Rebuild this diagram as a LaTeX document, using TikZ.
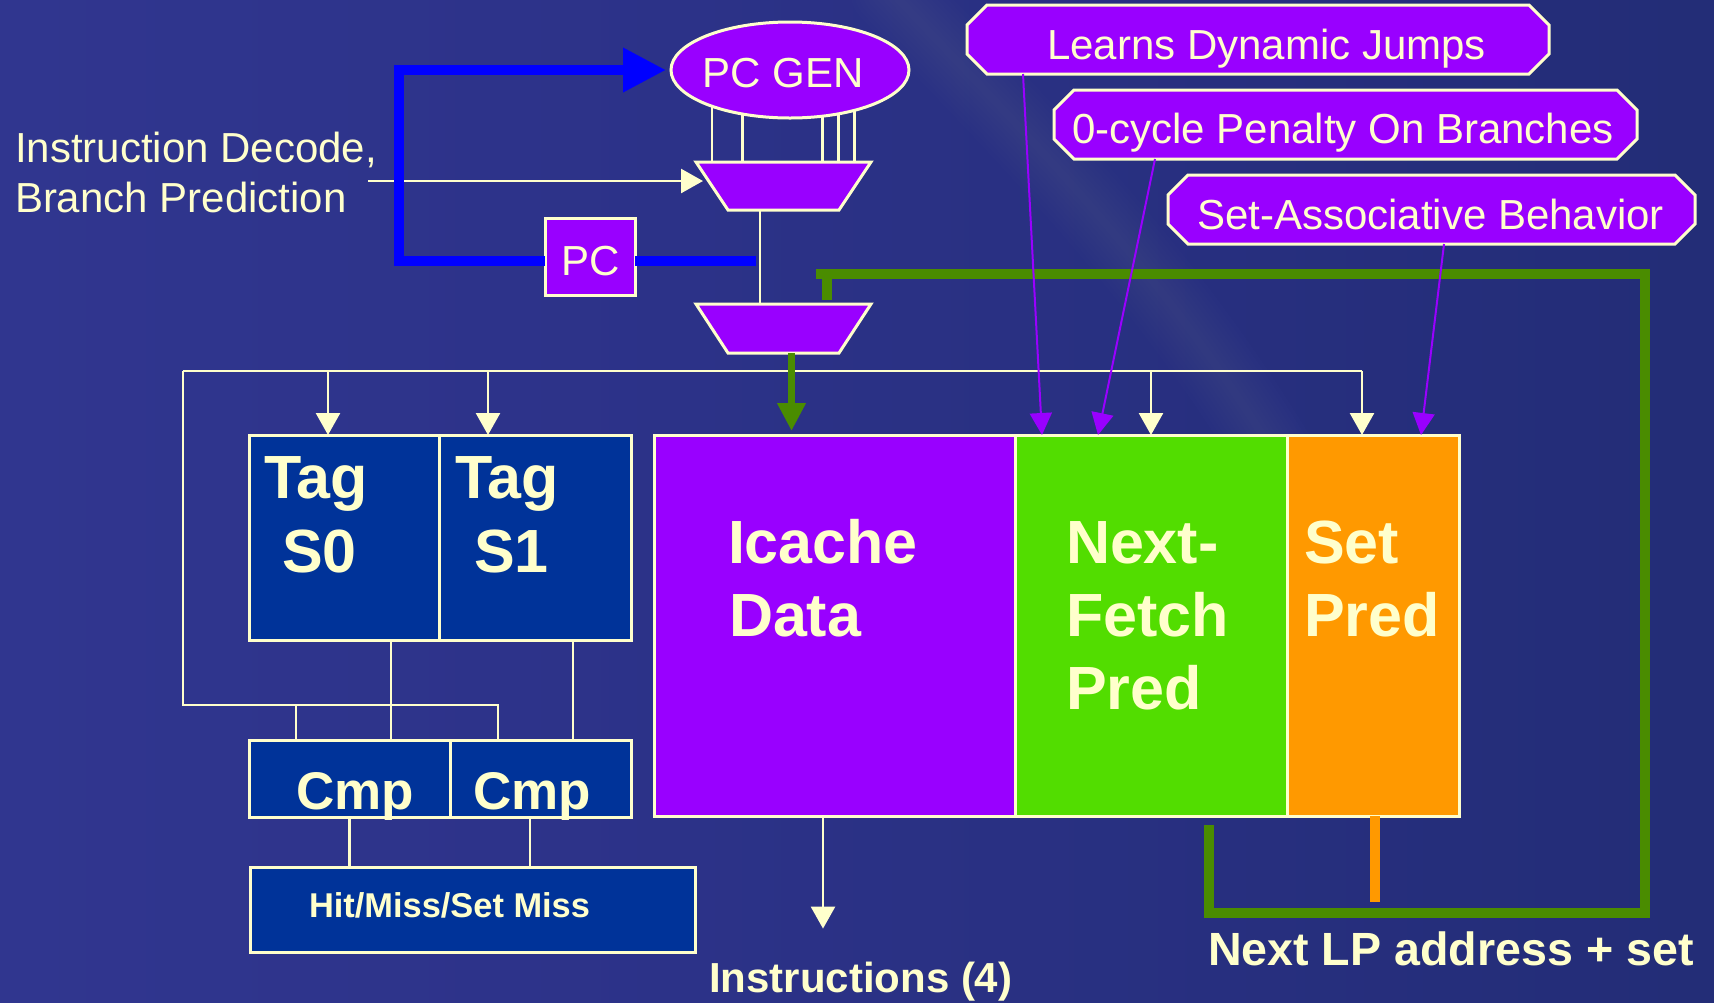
\documentclass[tikz,border=0pt]{standalone}
\usepackage{fontspec}
\setmainfont{Liberation Sans}
\usetikzlibrary{arrows.meta,fit,shapes.geometric}

\definecolor{cream}{RGB}{255,255,204}
\definecolor{violetfill}{RGB}{153,0,255}
\definecolor{limefill}{RGB}{82,221,0}
\definecolor{orangefill}{RGB}{255,153,0}
\definecolor{navyfill}{RGB}{0,51,153}
\definecolor{busblue}{RGB}{0,0,255}
\definecolor{busgreen}{RGB}{74,140,0}
\definecolor{bgL}{RGB}{54,59,152}
\definecolor{bgM}{RGB}{44,50,136}
\definecolor{bgR}{RGB}{27,40,104}

\pgfdeclarehorizontalshading{backdrop}{100bp}{color(0bp)=(bgL); color(45bp)=(bgM); color(100bp)=(bgR)}

% draws a box with cut corners over the rectangle of a named node
\newcommand\chamferbox[1]{%
  \draw[callout] ([xshift=10pt]#1.north west) -- ([xshift=-10pt]#1.north east)
    -- ([yshift=-10pt]#1.north east) -- ([yshift=10pt]#1.south east)
    -- ([xshift=-10pt]#1.south east) -- ([xshift=10pt]#1.south west)
    -- ([yshift=10pt]#1.south west) -- ([yshift=-10pt]#1.north west) -- cycle;}
% draws a multiplexer trapezium over the rectangle of a named node
\newcommand\muxbox[1]{%
  \draw[muxshape] (#1.north west) -- (#1.north east)
    -- ([xshift=-16pt]#1.south east) -- ([xshift=16pt]#1.south west) -- cycle;}

\tikzset{
  region/.style={fit={#1}, inner sep=0pt, outer sep=0pt},
  block/.style={draw=cream, line width=1.5pt},
  callout/.style={draw=cream, fill=violetfill, line width=1.5pt, line join=miter},
  muxshape/.style={draw=cream, fill=violetfill, line width=1.5pt, line join=miter},
  wire/.style={draw=cream, line width=1.3pt},
  creamtip/.style={-{Triangle[length=11pt,width=12pt]}},
  bluebus/.style={draw=busblue, line width=5pt, line join=miter},
  greenbus/.style={draw=busgreen, line width=5pt, line join=miter},
  orangebus/.style={draw=orangefill, line width=5pt},
  greenarrow/.style={draw=busgreen, line width=3.5pt, -{Triangle[length=14pt,width=13.5pt]}},
  hintarrow/.style={draw=violetfill, line width=1pt, -{Triangle[length=11pt,width=11pt]}},
  txt/.style={text=cream, inner sep=0pt, outer sep=0pt, anchor=base west},
  plaintxt/.style={txt, font=\fontsize{21}{21}\selectfont},
  bigtxt/.style={txt, font=\bfseries\fontsize{30.5}{30.5}\selectfont},
  glow/.style={draw=white, line cap=round, draw opacity=#1},
}

\begin{document}
\begin{tikzpicture}[x=0.5pt, y=-0.5pt]
\useasboundingbox (0,0) rectangle (1714,1002);
\shade[shading=backdrop] (0,0) rectangle (1714,1002);
% soft rim of the globe behind the slide
\foreach \w in {40,36,...,4}
  \draw[glow=0.008, line width=\w pt] (890,-10) .. controls (1010,120) and (1160,260) .. (1290,480);

% ---------- annotation callouts ----------
\node[region={(967,5)(1549,74)}] (learn) {};
\chamferbox{learn}
\node[plaintxt, anchor=base] (learnT) at (1266.5,59) {Learns Dynamic Jumps};

\node[region={(1054,90)(1637,159)}] (zero) {};
\chamferbox{zero}
\node[plaintxt] (zeroT) at (1072,143) {0-cycle Penalty On Branches};

\node[region={(1168,175)(1695,244)}] (assoc) {};
\chamferbox{assoc}
\node[plaintxt] (assocT) at (1197,229) {Set-Associative Behavior};

% ---------- PC generation ----------
\node[ellipse, block, fill=violetfill, minimum width=119pt, minimum height=48pt,
      inner sep=0pt, outer sep=0pt] (pcgen) at (790,70) {};
\node[plaintxt, anchor=base] (pcgenT) at (783,87) {PC GEN};

\node[region={(696,162)(871,210)}] (mux1) {};
\muxbox{mux1}
\node[region={(696,304)(871,353)}] (mux2) {};
\muxbox{mux2}

\node[region={(545,218)(635,295)}, block, fill=violetfill] (pc) {};
\node[plaintxt] (pcT) at (561,275) {PC};

\foreach \a in {205,223,305,318,328}
  \draw[wire] (pcgen.\a) -- (pcgen.\a |- mux1.north);

\node[plaintxt] (decodeA) at (15,162) {Instruction Decode,};
\node[plaintxt] (decodeB) at (15,212) {Branch Prediction};
\coordinate (decodeout) at (368,181);
\draw[wire, creamtip, shorten >=-3.5pt] (decodeout) -- (decodeout -| mux1.west);

\coordinate (muxlink) at ([xshift=-11.75pt]mux1.south);
\draw[wire] (muxlink) -- (muxlink |- mux2.north);

% PC feedback loop
\coordinate (loopcorner) at (399,261);
\draw[bluebus, -{Triangle[length=21.5pt,width=21pt]}, shorten >=2.5pt]
  (pc.west |- loopcorner) -- (loopcorner) |- (pcgen.west);
\draw[bluebus, shorten >=2pt] (pc.east |- loopcorner) -- (muxlink |- loopcorner);

% ---------- cache arrays ----------
\node[region={(249,435)(439,640)}, block, fill=navyfill] (tag0) {};
\node[region={(439,435)(631,640)}, block, fill=navyfill] (tag1) {};
\node[region={(249,740)(450,817)}, block, fill=navyfill] (cmp0) {};
\node[region={(450,740)(631,817)}, block, fill=navyfill] (cmp1) {};
\node[region={(250,867)(695,952)}, block, fill=navyfill] (hit) {};
\node[region={(654,435)(1015,816)}, block, fill=violetfill] (icache) {};
\node[region={(1015,435)(1287,816)}, block, fill=limefill] (nfp) {};
\node[region={(1287,435)(1459,816)}, block, fill=orangefill] (setp) {};

\node[bigtxt] (tag0A) at (264,498) {Tag};
\node[bigtxt] (tag0B) at (282,572) {S0};
\node[bigtxt] (tag1A) at (455,498) {Tag};
\node[bigtxt] (tag1B) at (474,572) {S1};
\node[bigtxt] (icacheA) at (728,563) {Icache};
\node[bigtxt] (icacheB) at (729,636) {Data};
\node[bigtxt] (nfpA) at (1066,563) {Next-};
\node[bigtxt] (nfpB) at (1066,636) {Fetch};
\node[bigtxt] (nfpC) at (1066,709) {Pred};
\node[bigtxt] (setpA) at (1304,563) {Set};
\node[bigtxt] (setpB) at (1304,636) {Pred};
\node[txt, font=\bfseries\fontsize{26.5}{26.5}\selectfont] (cmp0T) at (296,809) {Cmp};
\node[txt, font=\bfseries\fontsize{26.5}{26.5}\selectfont] (cmp1T) at (473,809) {Cmp};
\node[txt, font=\bfseries\fontsize{17.2}{17.2}\selectfont] (hitT) at (309,917) {Hit/Miss/Set Miss};
\node[txt, font=\bfseries\fontsize{21}{21}\selectfont] (instr) at (709,992) {Instructions (4)};
\node[txt, font=\bfseries\fontsize{23.3}{23.3}\selectfont] (nextlp) at (1208,965) {Next LP address + set};

% ---------- address bus ----------
\coordinate (busW) at (183,371);
\coordinate (busE) at (1362,371);
\coordinate (pcfeed) at (183,705);
\draw[wire] (busW) -- (busE);
\draw[wire, creamtip] ([xshift=-8pt]tag0.north |- busW) -- ([xshift=-8pt]tag0.north);
\draw[wire, creamtip] ([xshift=-23.5pt]tag1.north |- busW) -- ([xshift=-23.5pt]tag1.north);
\draw[wire, creamtip] (nfp.north |- busW) -- (nfp.north);
\draw[wire, creamtip] (busE) -- (busE |- setp.north);
\draw[wire] (busW) |- ([xshift=-21.25pt]cmp1.north |- pcfeed) -- ([xshift=-21.25pt]cmp1.north);
\draw[wire] ([xshift=-26.75pt]cmp0.north |- pcfeed) -- ([xshift=-26.75pt]cmp0.north);
\draw[wire] ([xshift=23.5pt]tag0.south) -- ([xshift=23.5pt]tag0.south |- cmp0.north);
\draw[wire] ([xshift=19pt]tag1.south) -- ([xshift=19pt]tag1.south |- cmp1.north);
\draw[wire] (cmp0.south) -- (cmp0.south |- hit.north);
\draw[wire] ([xshift=-5.25pt]cmp1.south) -- ([xshift=-5.25pt]cmp1.south |- hit.north);
\draw[wire, creamtip, shorten >=16.5pt] ([xshift=-5.75pt]icache.south) -- ([xshift=-5.75pt]icache.south |- instr.north);

% ---------- next-line feedback ----------
\coordinate (loopSE) at (1645,913);
\coordinate (loopNW) at (816,274);
\draw[greenbus] ([xshift=28.75pt,yshift=-4.5pt]nfp.south) |- (loopSE) |- (loopNW);
\draw[greenbus] ([xshift=21.75pt]mux2.north |- loopNW) -- ([xshift=21.75pt,yshift=2pt]mux2.north);
\draw[orangebus] ([xshift=1pt]setp.south) -- ++(0,86);
\draw[greenarrow, shorten >=2pt] ([xshift=4pt]mux2.south) -- ([xshift=4pt]mux2.south |- icache.north);

% ---------- annotation pointers ----------
\draw[hintarrow] ([xshift=28pt]learn.south west) -- ([xshift=13.5pt]nfp.north west);
\draw[hintarrow] ([xshift=50.5pt]zero.south west) -- ([xshift=41.5pt]nfp.north west);
\draw[hintarrow] ([xshift=138pt]assoc.south west) -- ([xshift=67pt]setp.north west);
\end{tikzpicture}
\end{document}
